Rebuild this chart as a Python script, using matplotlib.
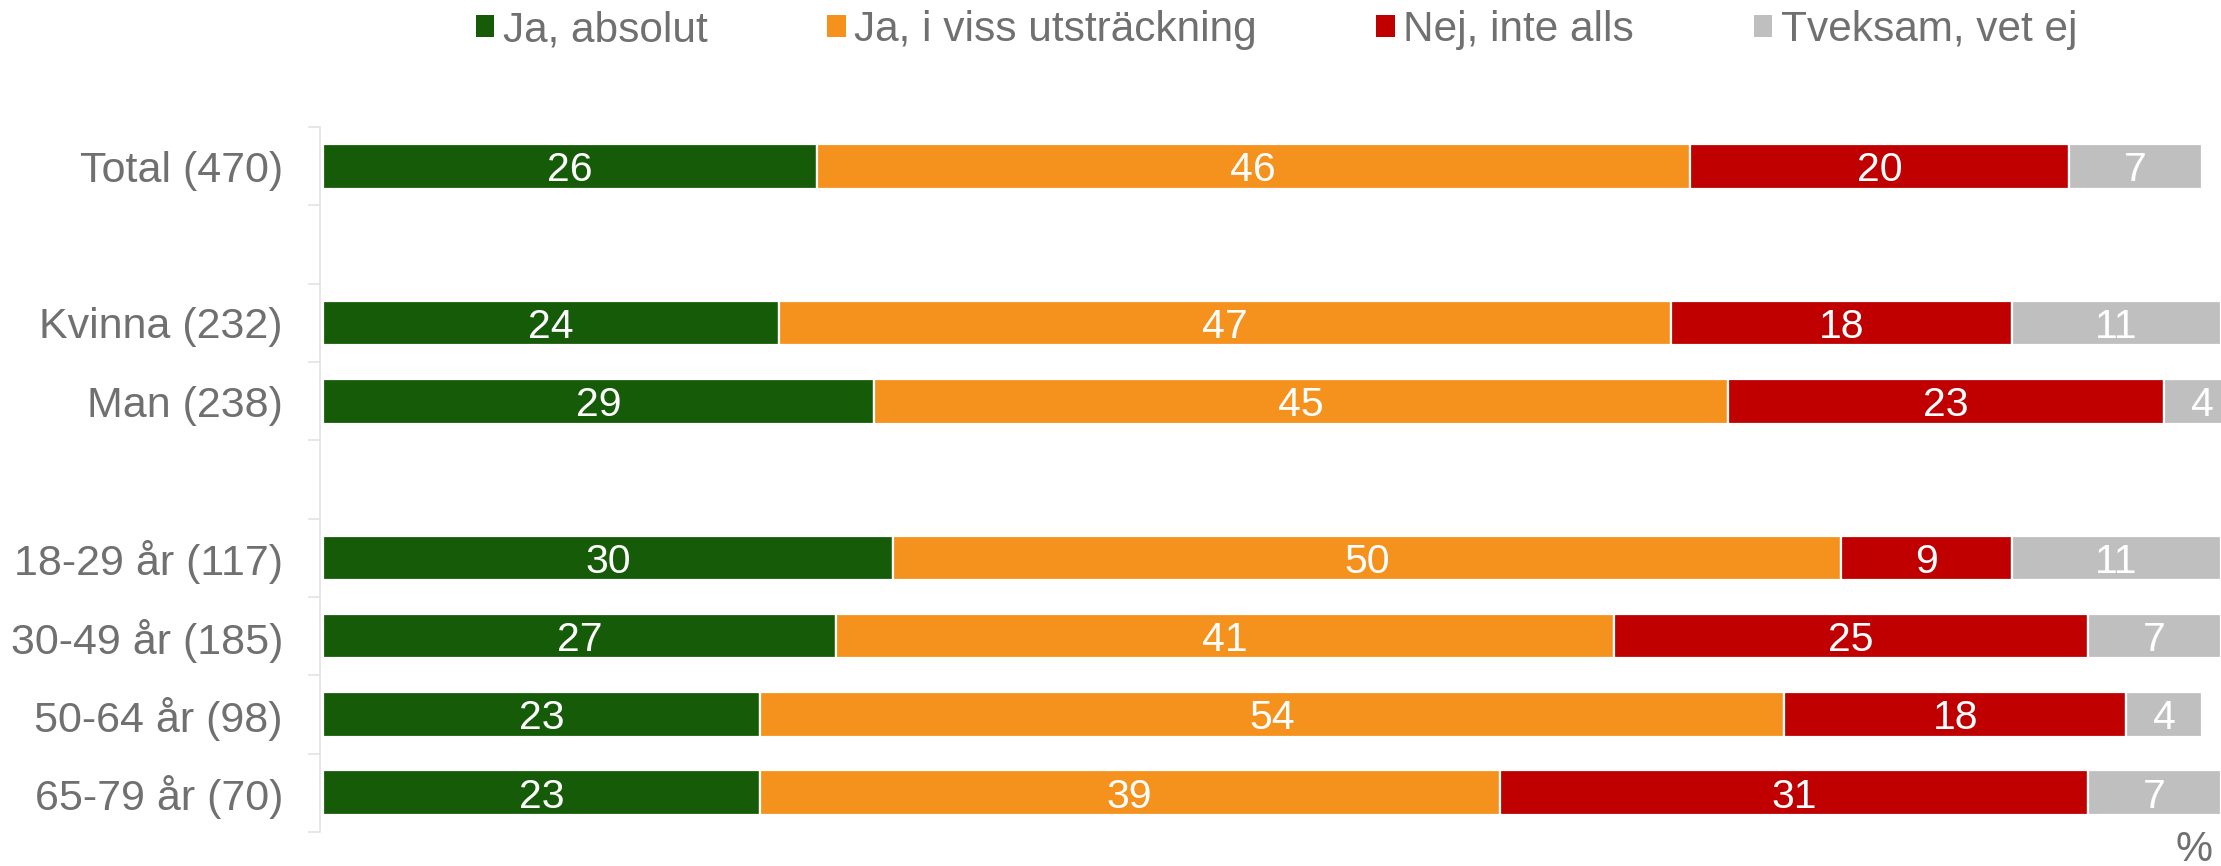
import numpy as np
import matplotlib.pyplot as plt
from matplotlib.patches import Patch

# --- data ---
grupper = ['Total (470)', '', 'Kvinna (232)', 'Man (238)', '',
           '18-29 år (117)', '30-49 år (185)', '50-64 år (98)', '65-79 år (70)']
kategorier = ['Ja, absolut', 'Ja, i viss utsträckning', 'Nej, inte alls', 'Tveksam, vet ej']
ja_absolut = [26, None, 24, 29, None, 30, 27, 23, 23]
ja_viss = [46, None, 47, 45, None, 50, 41, 54, 39]
nej = [20, None, 18, 23, None, 9, 25, 18, 31]
tveksam = [7, None, 11, 4, None, 11, 7, 4, 7]

farger = ['#165C08', '#F5921E', '#C00000', '#BFBFBF']
GRA_TEXT = '#707070'
FONT = 'Liberation Sans'

plt.rcParams['font.family'] = [FONT, 'DejaVu Sans']

fig = plt.figure(figsize=(22.21, 8.66), dpi=100)
ax = fig.add_axes([0.1455, 0.0393, 0.8545, 0.814])

serier = [ja_absolut, ja_viss, nej, tveksam]
y = np.arange(len(grupper))
vanster = np.zeros(len(grupper))
for serie, farg in zip(serier, farger):
    v = np.array([np.nan if s is None else s for s in serie], dtype=float)
    mask = ~np.isnan(v)
    ax.barh(y[mask], v[mask], left=vanster[mask], height=0.57, color=farg,
            edgecolor='white', linewidth=1.6, clip_on=False)
    for yi, vi, li in zip(y[mask], v[mask], vanster[mask]):
        ax.text(li + vi / 2, yi, f'{int(vi)}', ha='center', va='center_baseline',
                color='white', fontsize=29.5, clip_on=False)
    vanster[mask] += v[mask]

ax.set_xlim(0, 100)
ax.set_ylim(len(grupper) - 0.5, -0.5)

ax.set_yticks(y)
ax.set_yticklabels(grupper)
ax.set_yticks(np.arange(-0.5, len(grupper), 1), minor=True)
ax.tick_params(axis='y', which='major', length=0, pad=27, labelsize=31,
               labelcolor=GRA_TEXT)
ax.tick_params(axis='y', which='minor', length=8.5, width=1.2, color='#E3E3E3')
ax.xaxis.set_visible(False)
for s in ['top', 'right', 'bottom']:
    ax.spines[s].set_visible(False)
ax.spines['left'].set_color('#E3E3E3')
ax.spines['left'].set_linewidth(1.2)
ax.spines['left'].set_position(('outward', 2))

handtag = [Patch(facecolor=f, edgecolor='none') for f in farger]
fig.legend(handtag, kategorier, loc='center', bbox_to_anchor=(0.5747, 0.965),
           ncol=4, frameon=False, fontsize=30.5, labelcolor=GRA_TEXT,
           handlelength=0.44, handleheight=0.44, handletextpad=0.2,
           columnspacing=2.82, borderaxespad=0, borderpad=0)

fig.text(0.988, 0.018, '%', ha='center', va='center', fontsize=30,
         color=GRA_TEXT)

fig.savefig('out.png', dpi=100, facecolor='white')
